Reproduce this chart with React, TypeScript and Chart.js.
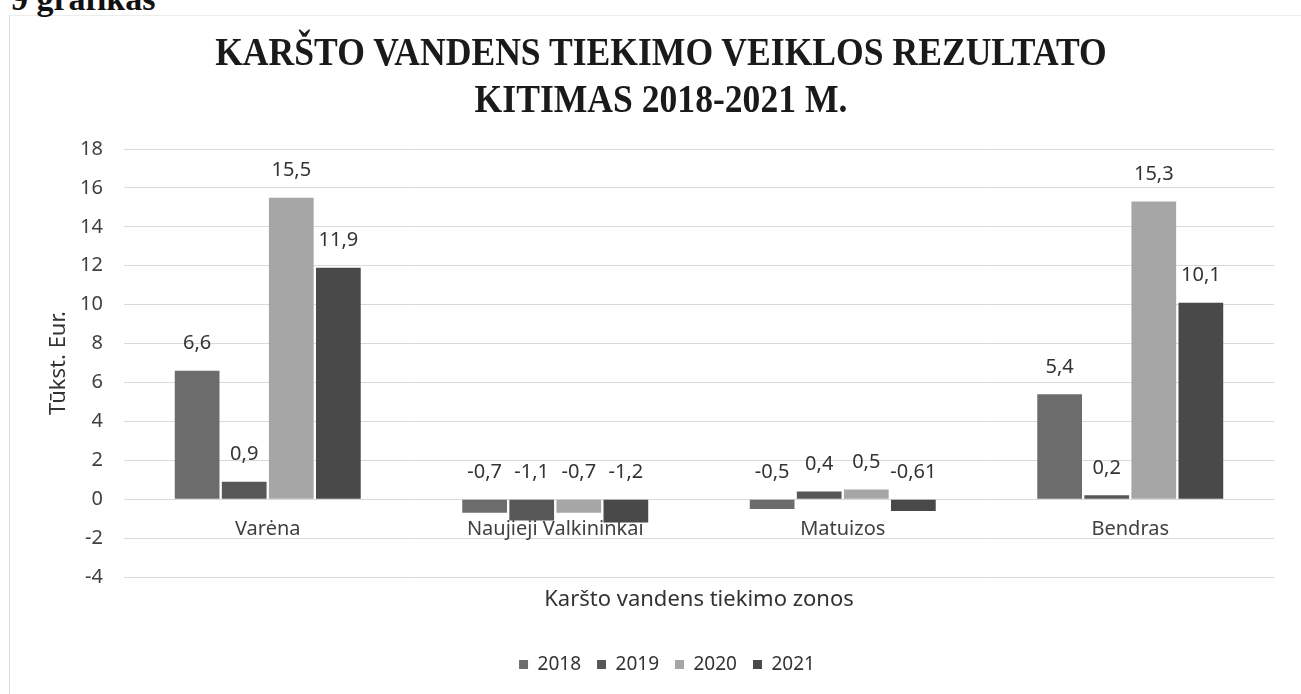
import React, { useEffect, useRef } from "react";
import { Chart, registerables } from "chart.js";

Chart.register(...registerables);

const categories = ["Varėna", "Naujieji Valkininkai", "Matuizos", "Bendras"];
const seriesNames = ["2018", "2019", "2020", "2021"];
const values2018 = [6.6, -0.7, -0.5, 5.4];
const values2019 = [0.9, -1.1, 0.4, 0.2];
const values2020 = [15.5, -0.7, 0.5, 15.3];
const values2021 = [11.9, -1.2, -0.61, 10.1];
const seriesColors = ["#6c6c6c", "#575757", "#a6a6a6", "#494949"];
const yMin = -4;
const yMax = 18;
const yStep = 2;

const titleLines = ["KARŠTO VANDENS TIEKIMO VEIKLOS REZULTATO", "KITIMAS 2018-2021 M."];
const yTitle = "Tūkst. Eur.";
const xTitle = "Karšto vandens tiekimo zonos";
const captionText = "9 grafikas";

const FONT = "'Noto Sans', 'Open Sans', sans-serif";

const fmt = (v: number) => String(v).replace(".", ",");

const labelPlugin = {
  id: "barValueLabels",
  afterDatasetsDraw(chart: any) {
    const ctx = chart.ctx;
    const yScale = chart.scales.y;
    ctx.save();
    ctx.font = `20px ${FONT}`;
    ctx.fillStyle = "#333333";
    ctx.textAlign = "center";
    ctx.textBaseline = "middle";
    chart.data.datasets.forEach((ds: any, di: number) => {
      const meta = chart.getDatasetMeta(di);
      meta.data.forEach((bar: any, i: number) => {
        const v = ds.data[i] as number;
        const y = yScale.getPixelForValue(Math.max(v, 0)) - 27;
        ctx.fillText(fmt(v), bar.x, y);
      });
    });
    ctx.restore();
  },
};

export default function App() {
  const canvasRef = useRef<HTMLCanvasElement | null>(null);

  useEffect(() => {
    const canvas = canvasRef.current;
    if (!canvas) return;
    const allSeries = [values2018, values2019, values2020, values2021];
    const chart = new Chart(canvas, {
      type: "bar",
      data: {
        labels: categories,
        datasets: allSeries.map((vals, i) => ({
          label: seriesNames[i],
          data: vals,
          backgroundColor: seriesColors[i],
          borderWidth: 0,
          barPercentage: 0.95,
          categoryPercentage: 0.655,
        })),
      },
      options: {
        responsive: false,
        animation: false,
        devicePixelRatio: 1,
        layout: { padding: { top: 149, left: 60, right: 27, bottom: 16 } },
        plugins: {
          title: { display: false },
          tooltip: { enabled: false },
          legend: {
            display: true,
            position: "bottom",
            labels: {
              boxWidth: 9,
              boxHeight: 9,
              padding: 16,
              color: "#333333",
              font: { family: FONT, size: 19 },
            },
          },
        },
        scales: {
          x: {
            type: "category",
            position: { y: 0 },
            grid: { display: false, drawTicks: false },
            border: { display: false },
            ticks: {
              color: "#404040",
              font: { family: FONT, size: 20 },
              padding: 18,
              maxRotation: 0,
              autoSkip: false,
            },
          },
          xTitle: {
            type: "category",
            position: "bottom",
            grid: { display: false, drawTicks: false },
            border: { display: false },
            ticks: { display: false },
            title: {
              display: true,
              text: xTitle,
              color: "#333333",
              font: { family: FONT, size: 22 },
              padding: { top: 0, bottom: 26 },
            },
            afterFit: (scale: any) => {
              scale.height = 62;
            },
          },
          y: {
            min: yMin,
            max: yMax,
            ticks: {
              stepSize: yStep,
              color: "#404040",
              font: { family: FONT, size: 20 },
              padding: 21,
            },
            grid: { color: "#d9d9d9", lineWidth: 1, drawTicks: false },
            border: { display: false },
            title: {
              display: true,
              text: yTitle,
              color: "#333333",
              font: { family: FONT, size: 22 },
              padding: { top: -14, bottom: 0 },
            },
            afterFit: (scale: any) => {
              scale.width = 64;
            },
          },
        },
      },
      plugins: [labelPlugin],
    });
    return () => chart.destroy();
  }, []);

  return (
    <div
      style={{
        position: "fixed",
        left: 0,
        top: 0,
        width: 1301,
        height: 694,
        overflow: "hidden",
        background: "#ffffff",
      }}
    >
      <div
        style={{
          position: "absolute",
          left: 9,
          top: 15,
          width: 1300,
          height: 700,
          borderLeft: "1px solid #dcdcdc",
          borderTop: "1px solid #ececec",
        }}
      />
      <div
        style={{
          position: "absolute",
          left: 11,
          top: -18,
          fontFamily: "'Liberation Serif', 'Times New Roman', serif",
          fontWeight: "bold",
          fontSize: 34,
          lineHeight: "34px",
          color: "#111",
          whiteSpace: "nowrap",
        }}
      >
        {captionText}
      </div>
      <canvas
        ref={canvasRef}
        width={1301}
        height={700}
        style={{ position: "absolute", left: 0, top: 0, display: "block" }}
      />
      <div
        style={{
          position: "absolute",
          left: 0,
          top: 28,
          width: 1322,
          textAlign: "center",
          fontFamily: "'Liberation Serif', 'Times New Roman', serif",
          fontWeight: "bold",
          fontSize: 40,
          lineHeight: "47px",
          color: "#1a1a1a",
          transform: "scaleX(0.89)",
          whiteSpace: "nowrap",
        }}
      >
        {titleLines.map((t) => (
          <div key={t}>{t}</div>
        ))}
      </div>
    </div>
  );
}
